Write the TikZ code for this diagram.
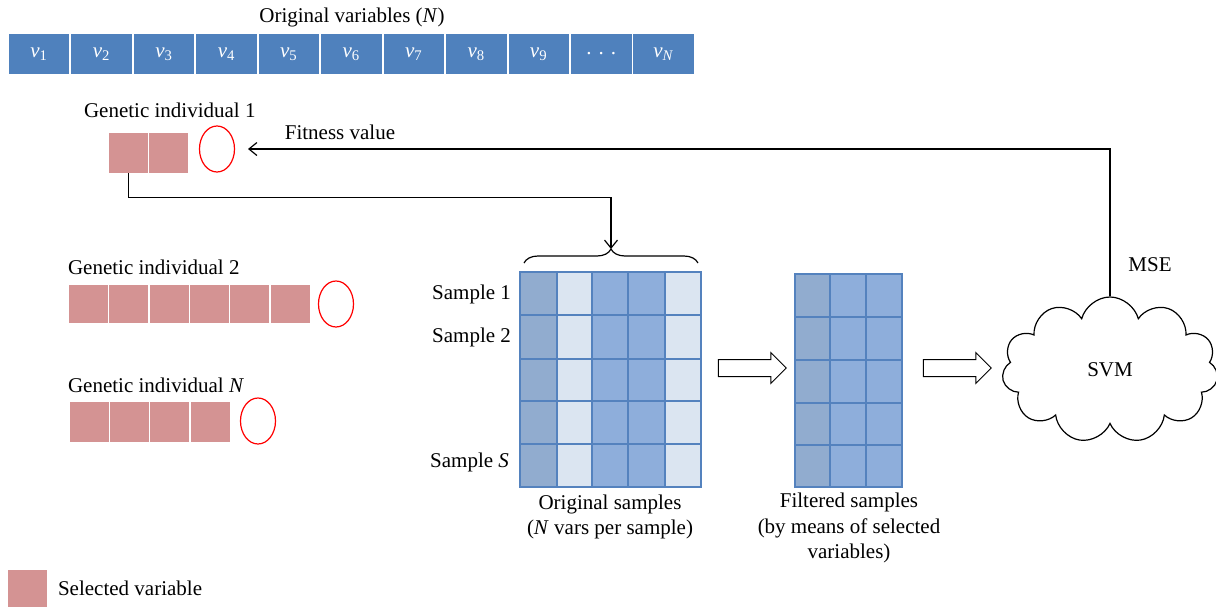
\documentclass[tikz,border=0pt]{standalone}
\usepackage{fontspec}
\setmainfont{Liberation Serif}
\usetikzlibrary{positioning}
\usetikzlibrary{shapes.geometric, shapes.symbols, shapes.arrows}
\usetikzlibrary{decorations.pathreplacing, arrows.meta}

\definecolor{varblue}{RGB}{79,129,189}
\definecolor{selpink}{RGB}{212,147,147}
\definecolor{gridblue}{RGB}{84,130,190}
\definecolor{colgray}{RGB}{145,172,207}
\definecolor{collight}{RGB}{219,229,241}
\definecolor{colmid}{RGB}{142,174,219}

\tikzset{
  varcell/.style={rectangle,fill=varblue,text=white,minimum width=30.25pt,minimum height=20pt,inner sep=0pt},
  selvar/.style={rectangle,fill=selpink,minimum width=19.5pt,minimum height=20pt,inner sep=0pt},
  fitval/.style={ellipse,draw=red,line width=0.6pt,minimum width=17.5pt,minimum height=23pt,inner sep=0pt},
  hollow/.style={single arrow,draw,line width=0.5pt,minimum height=34pt,inner xsep=0pt,inner ysep=4pt,single arrow head extend=3.5pt},
  link/.style={line width=0.6pt,-{Straight Barb[length=4pt,width=6.5pt]}}
}

\begin{document}
\begin{tikzpicture}[x=0.5pt,y=-0.5pt,every node/.append style={font=\fontsize{10.5}{12.6}\selectfont}]
\useasboundingbox (0,0) rectangle (1216,606);

\node (title) at (352,17) {Original variables (\textit{N})};
\node[varcell] (v1) at (39.2,54) {\textit{v}\textsubscript{1}};
\node[varcell] (v2) at (101.7,54) {\textit{v}\textsubscript{2}};
\node[varcell] (v3) at (164.1,54) {\textit{v}\textsubscript{3}};
\node[varcell] (v4) at (226.6,54) {\textit{v}\textsubscript{4}};
\node[varcell] (v5) at (289.0,54) {\textit{v}\textsubscript{5}};
\node[varcell] (v6) at (351.5,54) {\textit{v}\textsubscript{6}};
\node[varcell] (v7) at (413.9,54) {\textit{v}\textsubscript{7}};
\node[varcell] (v8) at (476.4,54) {\textit{v}\textsubscript{8}};
\node[varcell] (v9) at (538.8,54) {\textit{v}\textsubscript{9}};
\node[varcell] (vdots) at (601.3,54) {. . .};
\node[varcell] (vN) at (663.7,54) {\textit{v}\textsubscript{\textit{N}}};

% genetic individuals
\node[anchor=west] (gi1) at (77,110) {Genetic individual 1};
\node[selvar] (g1a) at (128.5,153) {};
\node[selvar] (g1b) at (168.5,153) {};
\node[fitval] (fit1) at (217,149) {};
\node (fitlbl) at (340,132) {Fitness value};

\node[anchor=west] (gi2) at (61,267) {Genetic individual 2};
\node[selvar,minimum height=19pt] (g2a) at (88,304) {};
\node[selvar,minimum height=19pt] (g2b) at (128.5,304) {};
\node[selvar,minimum height=19pt] (g2c) at (169,304) {};
\node[selvar,minimum height=19pt] (g2d) at (209,304) {};
\node[selvar,minimum height=19pt] (g2e) at (249.5,304) {};
\node[selvar,minimum height=19pt] (g2f) at (290,304) {};
\node[fitval] (fit2) at (336,304) {};

\node[anchor=west] (giN) at (61,385) {Genetic individual \textit{N}};
\node[selvar] (gNa) at (89,421.5) {};
\node[selvar] (gNb) at (129,421.5) {};
\node[selvar] (gNc) at (169.5,421.5) {};
\node[selvar] (gNd) at (210,421.5) {};
\node[fitval] (fitN) at (258,421) {};

% original samples
\draw[fill=colgray,draw=gridblue,line width=0.8pt] (520,272) rectangle (557,315) (520,315) rectangle (557,359) (520,359) rectangle (557,401) (520,401) rectangle (557,444) (520,444) rectangle (557,487);
\draw[fill=collight,draw=gridblue,line width=0.8pt] (557,272) rectangle (592,315) (557,315) rectangle (592,359) (557,359) rectangle (592,401) (557,401) rectangle (592,444) (557,444) rectangle (592,487);
\draw[fill=colmid,draw=gridblue,line width=0.8pt] (592,272) rectangle (628,315) (592,315) rectangle (628,359) (592,359) rectangle (628,401) (592,401) rectangle (628,444) (592,444) rectangle (628,487);
\draw[fill=colmid,draw=gridblue,line width=0.8pt] (628,272) rectangle (665,315) (628,315) rectangle (665,359) (628,359) rectangle (665,401) (628,401) rectangle (665,444) (628,444) rectangle (665,487);
\draw[fill=collight,draw=gridblue,line width=0.8pt] (665,272) rectangle (701,315) (665,315) rectangle (701,359) (665,359) rectangle (701,401) (665,401) rectangle (701,444) (665,444) rectangle (701,487);
\node[anchor=east] (s1) at (518,294) {Sample 1};
\node[anchor=east] (s2) at (518,337) {Sample 2};
\node[anchor=east] (sS) at (516,462) {Sample \textit{S}};
\node[align=center] (origcap) at (610,517) {Original samples\\(\textit{N} vars per sample)};
\draw[decorate,decoration={brace,amplitude=7pt},line width=0.6pt] (524,263) -- (698,263);
\coordinate (brtip) at (611,249);

% filtered samples
\draw[fill=colgray,draw=gridblue,line width=0.8pt] (795,274) rectangle (830,317) (795,317) rectangle (830,360) (795,360) rectangle (830,403) (795,403) rectangle (830,445) (795,445) rectangle (830,487);
\draw[fill=colmid,draw=gridblue,line width=0.8pt] (830,274) rectangle (866,317) (830,317) rectangle (866,360) (830,360) rectangle (866,403) (830,403) rectangle (866,445) (830,445) rectangle (866,487);
\draw[fill=colmid,draw=gridblue,line width=0.8pt] (866,274) rectangle (902,317) (866,317) rectangle (902,360) (866,360) rectangle (902,403) (866,403) rectangle (902,445) (866,445) rectangle (902,487);
\node[align=center] (filtcap) at (849,528) {Filtered samples\\(by means of selected\\variables)};

\node[hollow] (arr1) at (748,368) {};
\node[hollow] (arr2) at (953,368) {};

% classifier
\node[cloud,draw,line width=0.6pt,cloud puffs=11,cloud ignores aspect,minimum width=108pt,minimum height=73pt,inner sep=0pt] (svm) at (1110,370) {SVM};
\node (mse) at (1150,265) {MSE};
\coordinate (fitin) at (248,149);

\draw[link] (svm.north) |- (fitin);
\draw[link] (g1a.south) -- ++(0,24) -| (brtip);

% legend
\node[selvar,minimum height=19pt] (legbox) at (27,589) {};
\node[anchor=west] (leglbl) at (51,588) {Selected variable};

\end{tikzpicture}
\end{document}
